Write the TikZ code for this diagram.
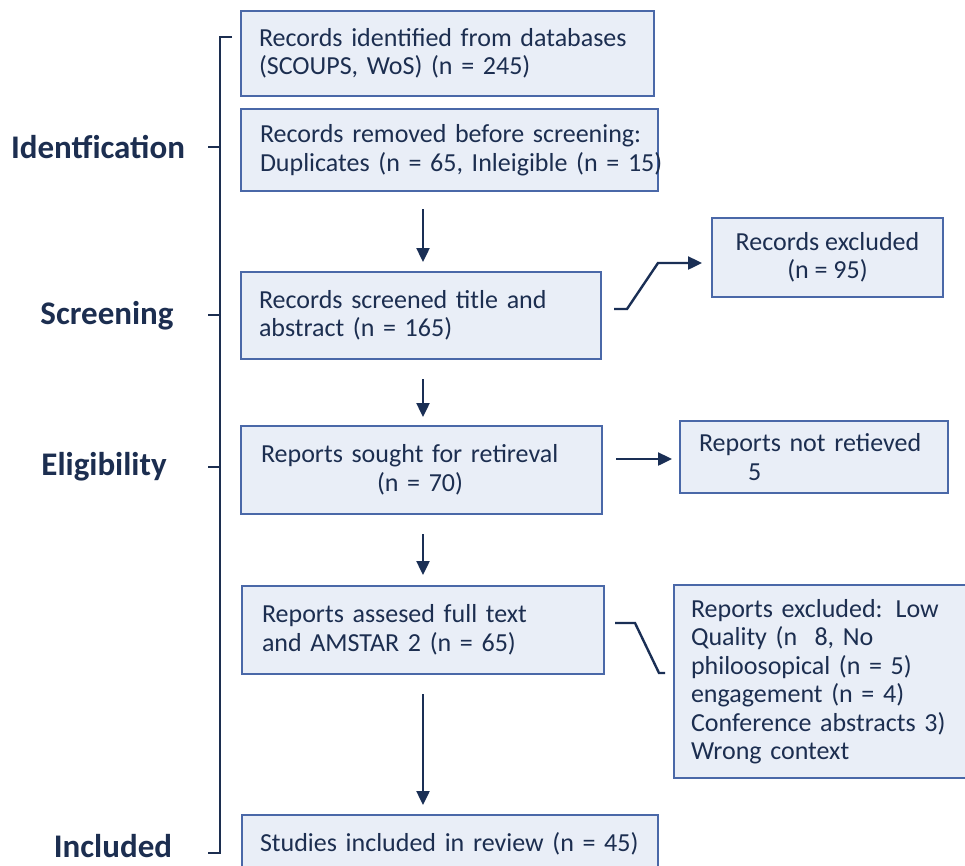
\documentclass[tikz,border=0pt]{standalone}
\usepackage{fontspec}
\setmainfont{Carlito}
\usetikzlibrary{arrows.meta}
\definecolor{boxline}{HTML}{4A68A8}
\definecolor{boxfill}{HTML}{E9EEF7}
\definecolor{ink}{HTML}{1C2E50}
\definecolor{arrowc}{HTML}{1A2F55}
\tikzset{
  box/.style={draw=boxline, fill=boxfill, line width=2pt, rectangle, anchor=north west,
    inner xsep=18pt, inner ysep=0pt, align=left, text=ink,
    font=\fontsize{26}{28.5}\selectfont},
  boxc/.style={box, align=center},
  phase/.style={text=ink, font=\fontsize{33}{35}\selectfont\bfseries, inner sep=0pt},
  arr/.style={draw=arrowc, line width=2.4pt, -{Triangle[width=13pt,length=14pt]}},
  conn/.style={draw=arrowc, line width=2.4pt},
  brk/.style={draw=ink, line width=2.4pt}
}
\begin{document}
\begin{tikzpicture}[x=1pt,y=-1pt]
\clip (0,0) rectangle (965,865);
\fill[white] (0,0) rectangle (965,865);
% main boxes
\node[box, minimum width=413pt, minimum height=85pt, text width=377pt] (b1) at (240,10)
  {\mbox{Records identified from databases}\\\mbox{(SCOUPS, WoS) (n = 245)}};
\node[box, minimum width=415pt, minimum height=82pt, text width=379pt, inner xsep=19pt] (b2) at (240,108)
  {\mbox{Records removed before screening:}\\\mbox{Duplicates (n = 65, Inleigible (n = 15)}};
\node[box, minimum width=360pt, minimum height=87pt, text width=324pt] (b3) at (240,271)
  {\mbox{Records screened title and}\\\mbox{abstract (n = 165)}};
\node[box, minimum width=361pt, minimum height=88pt, text width=321pt, inner xsep=20pt] (b4) at (240,425)
  {\mbox{Reports sought for retireval}\\\mbox{\hspace*{116pt}(n = 70)}};
\node[box, minimum width=362pt, minimum height=88pt, text width=322pt, inner xsep=20pt] (b5) at (241,585)
  {\mbox{Reports assesed full text}\\\mbox{and AMSTAR 2 (n = 65)}};
\node[box, minimum width=416pt, minimum height=58pt, text width=380pt] (b6) at (241,814)
  {\mbox{Studies included in review (n = 45)}};
% side boxes
\node[boxc, minimum width=231pt, minimum height=79pt] (rx) at (711,217)
  {Records excluded\\(n = 95)};
\node[box, minimum width=268pt, minimum height=72pt, text width=230pt, inner xsep=19pt] (nr) at (679,420)
  {\mbox{Reports not retieved}\\\mbox{\hspace*{49pt}5}};
\node[box, minimum width=300pt, minimum height=193pt, text width=266pt, inner xsep=17pt] (rex) at (673,584)
  {\mbox{Reports excluded: Low}\\\mbox{Quality (n\ \ 8, No}\\\mbox{philoosopical (n = 5)}\\\mbox{engagement (n = 4)}\\\mbox{Conference abstracts 3)}\\\mbox{Wrong context}};
% phase labels
\node[phase] (pid) at (98,147) {Identfication};
\node[phase] (psc) at (107,316) {Screening};
\node[phase] (pel) at (104,467) {Eligibility};
\node[phase] (pin) at (113,846) {Included};
% bracket
\coordinate (bt) at (220,37);
\coordinate (bb) at (220,853);
\draw[brk] ([xshift=12pt]bt) -- (bt) -- (bb) -- ([xshift=-12pt]bb);
\draw[brk] (208,147) -- (220,147);
\draw[brk] (208,315) -- (220,315);
\draw[brk] (208,467) -- (220,467);
% vertical arrows
\coordinate (ax) at (423,0);
\draw[arr, shorten <=17pt, shorten >=9pt] (b2.south -| ax) -- (b3.north -| ax);
\draw[arr, shorten <=19pt, shorten >=8pt] (b3.south -| ax) -- (b4.north -| ax);
\draw[arr, shorten <=19pt, shorten >=10pt] (b4.south -| ax) -- (b5.north -| ax);
\draw[arr, shorten <=19pt, shorten >=9pt] (b5.south -| ax) -- (b6.north -| ax);
% side connectors
\draw[arr] ([xshift=12pt,yshift=6.5pt]b3.east) -- ++(13,0) -- ++(31,-46) -- ([xshift=-9pt,yshift=-5.5pt]rx.west);
\draw[arr] ([xshift=13pt,yshift=11pt]b4.east) -- ([xshift=-7pt,yshift=-2pt]nr.west);
\draw[conn] ([xshift=10pt,yshift=7pt]b5.east) -- ++(20,0) -- ++(24,50) -- ([xshift=-8pt,yshift=8.5pt]rex.west);
\end{tikzpicture}
\end{document}
